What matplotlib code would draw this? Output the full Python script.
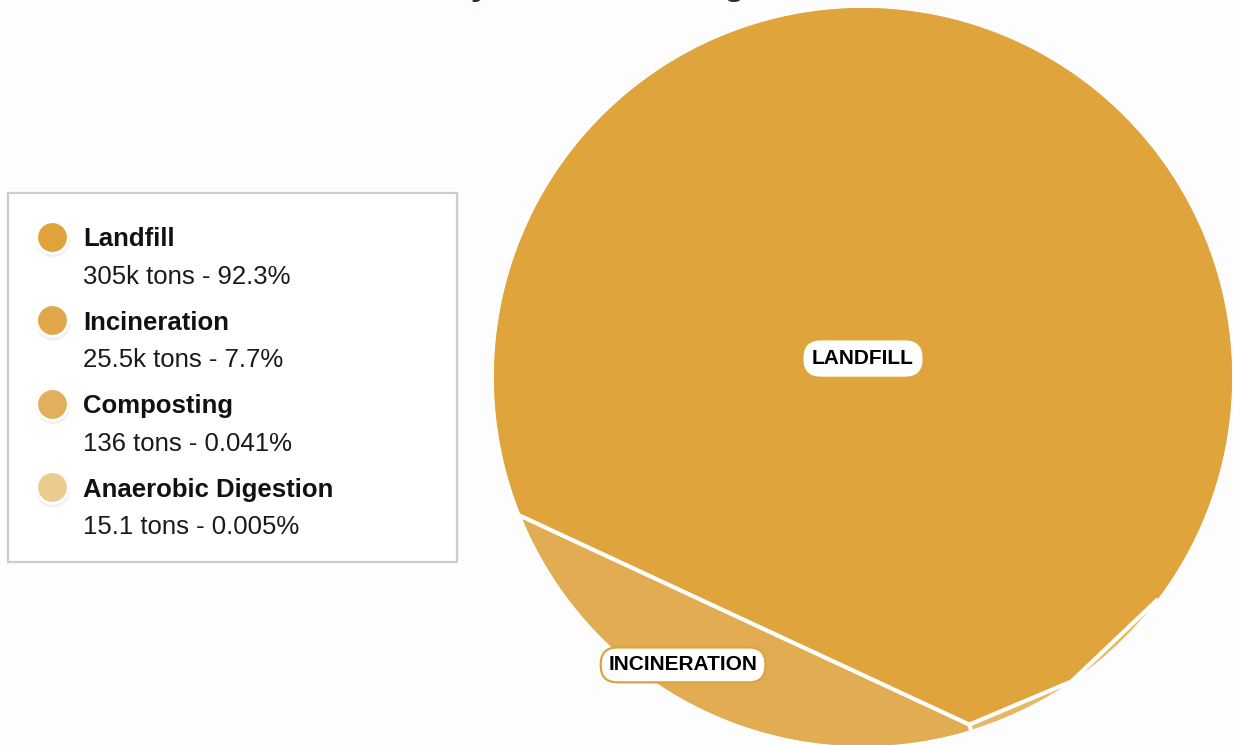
import numpy as np
import matplotlib.pyplot as plt
from matplotlib.patches import Circle, Polygon, Rectangle

# data
categories = ['Landfill', 'Incineration', 'Composting', 'Anaerobic Digestion']
tons = [305000, 25500, 136, 15.1]
amount_labels = ['305k', '25.5k', '136', '15.1']
pct_labels = ['92.3%', '7.7%', '0.041%', '0.005%']
slice_labels = ['LANDFILL', 'INCINERATION']

wedge_colors = ['#E0A43C', '#E2AD52', '#E6B864', '#EDCA90']
legend_colors = ['#DFA33A', '#E0A84A', '#E2AF5C', '#ECCB8F']

plt.rcParams['font.family'] = ['Liberation Sans', 'DejaVu Sans']

W, H = 1233, 745
fig = plt.figure(figsize=(W / 100, H / 100), dpi=100, facecolor='#fdfdfd')
ax = fig.add_axes([0, 0, 1, 1])
ax.set_xlim(0, W)
ax.set_ylim(H, 0)
ax.axis('off')
ax.set_facecolor('#fdfdfd')

# title sits mostly above the visible area (only descenders show)
ax.text(559, -5, 'Waste Volume by Treatment Stage and Site', ha='center', va='baseline',
        fontsize=24.5, fontweight='bold', color='#1d2f3c', clip_on=False)

# ---- pie (mid-animation: wedges fan out from a point near the rim) ----
cx, cy, R = 863, 377, 369
apex_deg = -73.0


def rim(deg, r=R):
    a = np.radians(deg)
    return cx + r * np.cos(a), cy - r * np.sin(a)


share = np.array(tons) / sum(tons)
# central angle of the incineration chord segment whose area equals its share
target = 2 * np.pi * share[1]
lo, hi = 0.0, np.pi
for _ in range(60):
    mid = (lo + hi) / 2
    if mid - np.sin(mid) < target:
        lo = mid
    else:
        hi = mid
inc_end = apex_deg - np.degrees(lo)

apex = rim(apex_deg, R * 0.985)

# small slices show up as a sliver behind the landfill edge
ax.add_patch(Circle((cx, cy), R, facecolor=wedge_colors[2], edgecolor='none', zorder=1))

inc_arc = [rim(d) for d in np.linspace(apex_deg, inc_end, 80)]
ax.add_patch(Polygon([apex] + inc_arc, closed=True, facecolor=wedge_colors[1],
                     edgecolor='none', zorder=2))

v1 = apex_deg + 17.4
v2 = apex_deg + 35.7
land_arc = [rim(d) for d in np.linspace(v2, inc_end + 360, 300)]
land_pts = [apex, rim(v1)] + land_arc
ax.add_patch(Polygon(land_pts, closed=True, facecolor=wedge_colors[0],
                     edgecolor='none', zorder=3))

# white separators
sep = [rim(inc_end), apex, rim(v1), rim(v2)]
ax.plot([p[0] for p in sep], [p[1] for p in sep], color='white', lw=3,
        solid_joinstyle='miter', zorder=4)
tip = rim(apex_deg, R + 2)
ax.plot([apex[0], tip[0]], [apex[1], tip[1]], color='white', lw=3, zorder=4)

# slice labels
lx, ly = cx, cy - 0.05 * R
ax.text(lx, ly, slice_labels[0], ha='center', va='center', fontsize=15,
        fontweight='bold', color='black', zorder=6,
        bbox=dict(boxstyle='round,pad=0.38,rounding_size=0.8', fc='white',
                  ec='white', lw=1))
ix, iy = rim(-122, 0.92 * R)
ax.text(ix, iy, slice_labels[1], ha='center', va='center', fontsize=15,
        fontweight='bold', color='black', zorder=6,
        bbox=dict(boxstyle='round,pad=0.38,rounding_size=0.8', fc='white',
                  ec='#D9A441', lw=1.6))

# ---- legend ----
ax.add_patch(Rectangle((8, 193), 449, 369, facecolor='white', edgecolor='#cccccc',
                       lw=1.6, zorder=5))
row0, step = 237, 83.4
for i, name in enumerate(categories):
    y = row0 + i * step
    ax.scatter([53], [y + 3], s=620, color='#000000', alpha=0.06, edgecolors='none', zorder=6)
    ax.scatter([52], [y], s=520, color=legend_colors[i], edgecolors='white',
               linewidths=2, zorder=7)
    ax.text(83, y + 9.5, name, ha='left', va='baseline', fontsize=18.5,
            fontweight='bold', color='#111111', zorder=7)
    ax.text(83, y + 47, f'{amount_labels[i]} tons - {pct_labels[i]}', ha='left',
            va='baseline', fontsize=18.5, color='#1a1a1a', zorder=7)

fig.savefig('out.png', dpi=100, facecolor=fig.get_facecolor())
